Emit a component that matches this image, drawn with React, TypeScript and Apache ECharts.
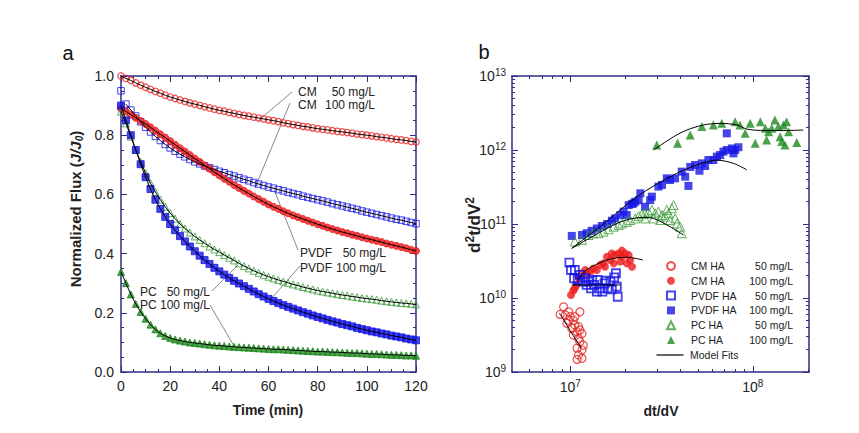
import React, { useEffect, useRef } from 'react';
import * as echarts from 'echarts';

// ---------- Panel a: normalized flux vs time ----------
const TIME = [0, 2, 4, 6, 8, 10, 12, 14, 16, 18, 20, 22, 24, 26, 28, 30, 32, 34, 36, 38, 40, 42, 44, 46, 48, 50, 52, 54, 56, 58, 60, 62, 64, 66, 68, 70, 72, 74, 76, 78, 80, 82, 84, 86, 88, 90, 92, 94, 96, 98, 100, 102, 104, 106, 108, 110, 112, 114, 116, 118, 120];

const CM_50 = [1.000, 0.992, 0.985, 0.977, 0.969, 0.962, 0.955, 0.948, 0.942, 0.935, 0.929, 0.924, 0.919, 0.914, 0.909, 0.905, 0.901, 0.896, 0.892, 0.888, 0.884, 0.881, 0.877, 0.874, 0.870, 0.867, 0.864, 0.861, 0.858, 0.855, 0.852, 0.849, 0.846, 0.842, 0.839, 0.836, 0.833, 0.830, 0.828, 0.825, 0.822, 0.820, 0.818, 0.815, 0.813, 0.811, 0.809, 0.807, 0.804, 0.802, 0.800, 0.798, 0.795, 0.793, 0.791, 0.788, 0.786, 0.784, 0.782, 0.779, 0.777];

const CM_100 = [0.890, 0.880, 0.869, 0.859, 0.848, 0.838, 0.827, 0.815, 0.803, 0.792, 0.780, 0.768, 0.756, 0.745, 0.733, 0.721, 0.710, 0.698, 0.687, 0.675, 0.664, 0.653, 0.643, 0.632, 0.622, 0.612, 0.603, 0.593, 0.584, 0.575, 0.566, 0.558, 0.551, 0.543, 0.536, 0.529, 0.523, 0.517, 0.511, 0.505, 0.499, 0.494, 0.488, 0.483, 0.478, 0.473, 0.469, 0.464, 0.460, 0.455, 0.451, 0.447, 0.443, 0.439, 0.434, 0.430, 0.426, 0.422, 0.418, 0.413, 0.409];

const PVDF_50 = [0.950, 0.905, 0.885, 0.865, 0.845, 0.827, 0.811, 0.796, 0.782, 0.769, 0.757, 0.746, 0.736, 0.727, 0.718, 0.710, 0.703, 0.696, 0.690, 0.684, 0.678, 0.673, 0.667, 0.662, 0.656, 0.651, 0.646, 0.640, 0.635, 0.630, 0.625, 0.621, 0.616, 0.612, 0.607, 0.603, 0.599, 0.594, 0.590, 0.586, 0.582, 0.578, 0.574, 0.569, 0.565, 0.561, 0.557, 0.553, 0.549, 0.544, 0.540, 0.536, 0.532, 0.528, 0.524, 0.520, 0.516, 0.513, 0.509, 0.505, 0.501];

const PVDF_100 = [0.900, 0.850, 0.800, 0.750, 0.702, 0.658, 0.618, 0.582, 0.551, 0.524, 0.500, 0.479, 0.459, 0.441, 0.424, 0.408, 0.393, 0.378, 0.365, 0.352, 0.340, 0.329, 0.318, 0.308, 0.299, 0.290, 0.281, 0.272, 0.263, 0.255, 0.247, 0.240, 0.233, 0.226, 0.220, 0.214, 0.208, 0.202, 0.197, 0.191, 0.186, 0.181, 0.176, 0.171, 0.167, 0.162, 0.158, 0.154, 0.149, 0.145, 0.141, 0.137, 0.134, 0.130, 0.127, 0.123, 0.120, 0.117, 0.113, 0.110, 0.107];

const PC_50 = [0.880, 0.840, 0.795, 0.750, 0.710, 0.672, 0.638, 0.608, 0.582, 0.558, 0.537, 0.518, 0.500, 0.485, 0.471, 0.458, 0.446, 0.435, 0.424, 0.414, 0.405, 0.395, 0.386, 0.377, 0.367, 0.358, 0.350, 0.342, 0.335, 0.328, 0.322, 0.316, 0.311, 0.306, 0.301, 0.296, 0.292, 0.287, 0.283, 0.279, 0.275, 0.272, 0.269, 0.266, 0.263, 0.260, 0.258, 0.255, 0.253, 0.250, 0.248, 0.246, 0.244, 0.241, 0.239, 0.237, 0.235, 0.233, 0.232, 0.230, 0.228];

const PC_100 = [0.338, 0.300, 0.262, 0.230, 0.203, 0.180, 0.160, 0.144, 0.131, 0.122, 0.115, 0.110, 0.106, 0.103, 0.100, 0.098, 0.096, 0.094, 0.092, 0.090, 0.089, 0.088, 0.086, 0.085, 0.084, 0.083, 0.082, 0.081, 0.080, 0.079, 0.078, 0.077, 0.077, 0.076, 0.075, 0.074, 0.073, 0.072, 0.071, 0.070, 0.069, 0.069, 0.068, 0.067, 0.067, 0.066, 0.065, 0.064, 0.064, 0.063, 0.062, 0.061, 0.061, 0.060, 0.059, 0.058, 0.058, 0.057, 0.056, 0.056, 0.055];

// ---------- Panel b: d2t/dV2 vs dt/dV ----------
const CM_HA_50 = [[8.8e6, 6.0e9], [9.2e6, 7.6e9], [9.8e6, 6.5e9], [9.4e6, 5.9e9], [1.0e7, 5.6e9], [1.13e7, 6.5e9], [1.04e7, 5.0e9], [9.6e6, 4.55e9], [1.06e7, 4.3e9], [1.02e7, 3.9e9], [1.11e7, 4.1e9], [1.09e7, 3.5e9], [1.16e7, 3.3e9], [1.04e7, 3.16e9], [1.11e7, 2.85e9], [1.13e7, 2.57e9], [1.18e7, 2.3e9], [1.09e7, 2.1e9], [1.16e7, 1.98e9], [1.11e7, 1.7e9], [1.16e7, 1.53e9], [1.09e7, 1.48e9], [1.06e7, 5.6e9], [9.8e6, 5.0e9], [1.13e7, 3.7e9]];

const CM_HA_100 = [[1.01e7, 1.1e10], [1.04e7, 1.26e10], [1.08e7, 1.5e10], [1.06e7, 1.35e10], [1.11e7, 1.85e10], [1.16e7, 2.16e10], [1.21e7, 2.39e10], [1.29e7, 2.26e10], [1.34e7, 2.5e10], [1.40e7, 2.39e10], [1.46e7, 2.8e10], [1.52e7, 2.94e10], [1.59e7, 3.6e10], [1.66e7, 3.26e10], [1.69e7, 4.0e10], [1.76e7, 3.8e10], [1.84e7, 4.0e10], [1.92e7, 3.6e10], [2.0e7, 4.0e10], [2.09e7, 3.8e10], [2.13e7, 3.26e10], [2.18e7, 2.65e10], [2.04e7, 2.94e10], [1.88e7, 3.1e10], [1.73e7, 2.94e10], [1.92e7, 4.37e10], [1.55e7, 2.65e10], [1.23e7, 2.16e10], [1.13e7, 1.85e10]];

const PVDF_HA_50 = [[9.9e6, 3.0e10], [1.01e7, 2.39e10], [1.06e7, 2.39e10], [1.05e7, 1.85e10], [1.13e7, 2.05e10], [1.21e7, 1.85e10], [1.26e7, 1.66e10], [1.30e7, 1.35e10], [1.35e7, 1.5e10], [1.41e7, 1.75e10], [1.46e7, 1.35e10], [1.50e7, 1.22e10], [1.54e7, 1.58e10], [1.60e7, 1.35e10], [1.66e7, 1.66e10], [1.74e7, 1.9e10], [1.78e7, 2.16e10], [1.80e7, 1.42e10], [1.82e7, 1.04e10], [1.40e7, 1.22e10], [1.23e7, 1.5e10], [1.17e7, 1.66e10], [1.10e7, 1.75e10], [1.69e7, 1.31e10], [1.57e7, 1.71e10], [1.32e7, 1.75e10]];

const PVDF_HA_100 = [[1.02e7, 6.9e10], [1.16e7, 7.1e10], [1.23e7, 7.5e10], [1.31e7, 8.1e10], [1.40e7, 8.7e10], [1.49e7, 9.4e10], [1.59e7, 1.0e11], [1.69e7, 1.11e11], [1.76e7, 1.19e11], [1.88e7, 1.32e11], [1.96e7, 1.47e11], [2.04e7, 1.32e11], [2.18e7, 1.86e11], [2.27e7, 2.0e11], [2.57e7, 1.71e11], [2.42e7, 2.6e11], [2.09e7, 1.8e11], [2.22e7, 1.9e11], [2.37e7, 2.1e11], [2.74e7, 2.1e11], [2.8e7, 2.34e11], [3.04e7, 3.2e11], [3.18e7, 3.37e11], [3.38e7, 4.14e11], [3.52e7, 3.93e11], [3.75e7, 4.14e11], [4.08e7, 5.1e11], [4.26e7, 4.36e11], [4.44e7, 3.27e11], [4.54e7, 5.9e11], [4.83e7, 6.27e11], [5.1e7, 5.25e11], [5.26e7, 6.6e11], [5.48e7, 6.08e11], [5.71e7, 7.33e11], [6.08e7, 7.33e11], [6.35e7, 8.13e11], [6.62e7, 8.55e11], [6.9e7, 9.5e11], [7.2e7, 1.0e12], [7.68e7, 1.05e12], [8.0e7, 1.0e12], [8.34e7, 1.09e12], [7.83e7, 9.0e11], [7.2e7, 1.68e12]];

const PC_HA_50 = [[1.06e7, 5.8e10], [1.16e7, 6.1e10], [1.26e7, 7.1e10], [1.34e7, 7.5e10], [1.43e7, 7.5e10], [1.52e7, 7.9e10], [1.62e7, 8.5e10], [1.73e7, 9.2e10], [1.84e7, 9.7e10], [1.92e7, 1.02e11], [2.04e7, 1.07e11], [2.13e7, 1.13e11], [2.27e7, 1.19e11], [2.37e7, 1.28e11], [2.47e7, 1.36e11], [2.57e7, 1.39e11], [2.68e7, 1.47e11], [2.8e7, 1.55e11], [2.92e7, 1.39e11], [3.04e7, 1.47e11], [3.18e7, 1.32e11], [3.31e7, 1.26e11], [3.45e7, 1.39e11], [3.6e7, 1.63e11], [3.68e7, 1.8e11], [3.76e7, 1.19e11], [3.84e7, 1.02e11], [4.0e7, 9.2e10], [4.08e7, 7.5e10], [3.52e7, 1.13e11], [3.38e7, 1.55e11], [3.11e7, 1.13e11], [2.86e7, 1.19e11], [2.57e7, 1.19e11]];

const PC_HA_100 = [[2.98e7, 1.17e12], [3.87e7, 1.23e12], [4.54e7, 1.6e12], [5.26e7, 2.07e12], [6.08e7, 2.18e12], [6.76e7, 2.29e12], [8.0e7, 2.41e12], [8.5e7, 2.18e12], [9.08e7, 1.68e12], [9.66e7, 2.29e12], [1.03e8, 1.23e12], [1.1e8, 2.41e12], [1.17e8, 1.96e12], [1.19e8, 1.36e12], [1.22e8, 1.77e12], [1.32e8, 2.54e12], [1.38e8, 2.07e12], [1.41e8, 1.51e12], [1.47e8, 2.18e12], [1.50e8, 1.17e12], [1.53e8, 2.41e12], [1.57e8, 1.77e12], [1.74e8, 1.26e12], [1.44e8, 1.3e12], [1.27e8, 1.96e12]];

const FIT_CM_50 = [[8.7e6, 6.3e9], [9.3e6, 4.9e9], [1.0e7, 3.6e9], [1.15e7, 2.1e9]];
const FIT_CM_100 = [[1.10e7, 1.79e10], [1.23e7, 2.39e10], [1.46e7, 3.0e10], [1.73e7, 3.44e10], [2.04e7, 3.55e10], [2.5e7, 3.27e10]];
const FIT_PVDF_50 = [[1.02e7, 1.5e10], [1.88e7, 1.5e10]];
const FIT_PVDF_100 = [[1.02e7, 4.7e10], [1.52e7, 1.0e11], [2.32e7, 2.34e11], [3.52e7, 4.35e11], [4.93e7, 6.27e11], [6.35e7, 7.3e11], [7.83e7, 6.6e11], [9.27e7, 5.4e11]];
const FIT_PC_50 = [[1.02e7, 4.7e10], [1.66e7, 9.2e10], [2.0e7, 1.12e11], [2.5e7, 1.23e11], [2.86e7, 1.19e11], [3.52e7, 9.2e10], [4.17e7, 7.1e10]];
const FIT_PC_100 = [[2.86e7, 1.0e12], [3.68e7, 1.51e12], [4.35e7, 1.86e12], [5.37e7, 2.18e12], [6.62e7, 2.29e12], [8.17e7, 2.18e12], [9.27e7, 1.92e12], [1.1e8, 1.84e12], [1.41e8, 1.83e12], [1.89e8, 1.86e12]];

// tick values
const A_X_TICKS = { min: 0, max: 120, interval: 20 };
const A_Y_TICKS = { min: 0, max: 1, interval: 0.2 };
const B_X_RANGE = [4.8e6, 2.03e8];
const B_Y_RANGE = [1e9, 1e13];
const B_X_MAJOR = [1e7, 1e8];
const B_X_MINOR = [6e6, 7e6, 8e6, 9e6, 2e7, 3e7, 4e7, 5e7, 6e7, 7e7, 8e7, 9e7, 2e8];
const B_Y_MAJOR = [1e9, 1e10, 1e11, 1e12, 1e13];
const B_Y_MINOR = [2e9, 3e9, 4e9, 5e9, 6e9, 7e9, 8e9, 9e9, 2e10, 3e10, 4e10, 5e10, 6e10, 7e10, 8e10, 9e10, 2e11, 3e11, 4e11, 5e11, 6e11, 7e11, 8e11, 9e11, 2e12, 3e12, 4e12, 5e12, 6e12, 7e12, 8e12, 9e12];

const LEGEND_SYMBOLS = ['CM HA|50 mg/L', 'CM HA|100 mg/L', 'PVDF HA|50 mg/L', 'PVDF HA|100 mg/L', 'PC HA|50 mg/L', 'PC HA|100 mg/L'];

const NAVY = '#2d2d84';
const TXT = '#222222';
const FONT = '"Liberation Sans", Arial, Helvetica, sans-serif';
const RED = '#ee1c1c';
const RED_OPEN = '#e62626';
const BLUE = '#1717e6';
const GREEN = '#1f8a1f';
const GREEN_OPEN = '#3a9a3a';

const logLabel = (v: number) => `{b|10}{s|${Math.round(Math.log10(v))}}`;
const logRich = {
  b: { fontSize: 14, fontFamily: FONT, color: TXT, lineHeight: 18 },
  s: { fontSize: 10, fontFamily: FONT, color: TXT, lineHeight: 10, verticalAlign: 'top' },
};

function linAxis(gridIndex: number, position: string, t: any, labels: boolean, fmt?: any) {
  return {
    gridIndex, type: 'value', position, min: t.min, max: t.max, interval: t.interval,
    axisLine: { show: true, onZero: false, lineStyle: { color: NAVY, width: 1.5 } },
    axisTick: { show: true, inside: true, length: 6, lineStyle: { color: NAVY, width: 1 } },
    minorTick: { show: true, splitNumber: 4, length: 3, lineStyle: { color: NAVY, width: 1 } },
    axisLabel: { show: labels, color: TXT, fontSize: 14, fontFamily: FONT, margin: 7, formatter: fmt },
    splitLine: { show: false }, minorSplitLine: { show: false },
  };
}

function logAxis(gridIndex: number, position: string, range: number[], ticks: number[], major: boolean, labels: boolean, margin: number) {
  return {
    gridIndex, type: 'log', logBase: 10, position, min: range[0], max: range[1],
    axisLine: { show: major, onZero: false, lineStyle: { color: NAVY, width: 1.5 } },
    axisTick: { show: true, inside: true, length: major ? 6 : 3, customValues: ticks, lineStyle: { color: NAVY, width: 1 } },
    axisLabel: labels
      ? { show: true, customValues: ticks, formatter: logLabel, rich: logRich, margin }
      : { show: false },
    splitLine: { show: false },
  };
}

const pairs = (xs: number[], ys: number[]) => xs.map((x, i) => [x, ys[i]]);

function scatterA(name: string, ys: number[], symbol: string, fill: string, stroke: string, size: number, bw = 1) {
  return {
    name, type: 'scatter', xAxisIndex: 0, yAxisIndex: 0, data: pairs(TIME, ys), symbol, symbolSize: size,
    itemStyle: { color: fill, borderColor: stroke, borderWidth: bw }, silent: true, z: 2,
  };
}
function fitA(name: string, ys: number[], xs: number[] = TIME) {
  return {
    name, type: 'line', xAxisIndex: 0, yAxisIndex: 0, data: pairs(xs, ys), symbol: 'none', silent: true,
    lineStyle: { color: '#000', width: 1 }, z: 4,
  };
}
function scatterB(name: string, data: number[][], symbol: string, size: number, fill: string, stroke: string, bw: number) {
  return {
    name, type: 'scatter', xAxisIndex: 2, yAxisIndex: 2, data, symbol, symbolSize: size,
    itemStyle: { color: fill, borderColor: stroke, borderWidth: bw }, silent: true, z: 2,
  };
}
function fitB(data: number[][]) {
  return {
    name: 'Model Fits', type: 'line', xAxisIndex: 2, yAxisIndex: 2, data, symbol: 'none', smooth: 0.3, silent: true,
    lineStyle: { color: '#000', width: 1 }, itemStyle: { color: '#000' }, z: 4,
  };
}

const TRANSP = 'rgba(255,255,255,0)';

const txt = (text: string, x: number, y: number, align: string, size = 12) => ({
  type: 'text', x, y, silent: true,
  style: { text, fill: TXT, font: `${size}px ${FONT}`, align, verticalAlign: 'middle' },
});
const leader = (x1: number, y1: number, x2: number, y2: number) => ({
  type: 'line', silent: true, shape: { x1, y1, x2, y2 }, style: { stroke: '#6a6a6a', lineWidth: 0.8 },
});

const legendRich = (padLeft: number) => ({
  a: { width: 58, fontSize: 10.5, fontFamily: FONT, color: TXT, padding: [0, 0, 0, padLeft] },
  b: { width: 44, align: 'right', fontSize: 10.5, fontFamily: FONT, color: TXT },
});
const legendFmt = (name: string) => {
  const p = name.split('|');
  return p.length > 1 ? `{a|${p[0]}}{b|${p[1]}}` : `{a|${name}}`;
};

const option: any = {
  animation: false,
  backgroundColor: '#ffffff',
  textStyle: { fontFamily: FONT },
  grid: [
    { left: 121, top: 76, width: 295, height: 296, outerBoundsMode: 'none' },
    { left: 512, top: 76, width: 297, height: 296, outerBoundsMode: 'none' },
  ],
  xAxis: [
    linAxis(0, 'bottom', A_X_TICKS, true),
    linAxis(0, 'top', A_X_TICKS, false),
    logAxis(1, 'bottom', B_X_RANGE, B_X_MAJOR, true, true, 6),
    logAxis(1, 'bottom', B_X_RANGE, B_X_MINOR, false, false, 6),
    logAxis(1, 'top', B_X_RANGE, B_X_MAJOR, true, false, 6),
    logAxis(1, 'top', B_X_RANGE, B_X_MINOR, false, false, 6),
  ],
  yAxis: [
    linAxis(0, 'left', A_Y_TICKS, true, (v: number) => v.toFixed(1)),
    linAxis(0, 'right', A_Y_TICKS, false),
    logAxis(1, 'left', B_Y_RANGE, B_Y_MAJOR, true, true, 6),
    logAxis(1, 'left', B_Y_RANGE, B_Y_MINOR, false, false, 6),
    logAxis(1, 'right', B_Y_RANGE, B_Y_MAJOR, true, false, 6),
    logAxis(1, 'right', B_Y_RANGE, B_Y_MINOR, false, false, 6),
  ],
  legend: [
    {
      left: 666, top: 260.5, orient: 'vertical', itemWidth: 8, itemHeight: 8, itemGap: 3.8, padding: 0,
      selectedMode: false, data: LEGEND_SYMBOLS, formatter: legendFmt,
      textStyle: { fontFamily: FONT, fontSize: 10.5, color: TXT, rich: legendRich(11) },
    },
    {
      left: 656.5, top: 349.5, orient: 'vertical', itemWidth: 27, itemHeight: 1.2, itemGap: 0, padding: 0,
      selectedMode: false, data: [{ name: 'Model Fits', icon: 'rect' }], formatter: legendFmt,
      textStyle: { fontFamily: FONT, fontSize: 10.5, color: TXT, rich: legendRich(1.5) },
    },
  ],
  series: [
    scatterA('a CM 50', CM_50, 'circle', TRANSP, RED_OPEN, 6.5, 1.2),
    scatterA('a PVDF 50', PVDF_50, 'rect', TRANSP, BLUE, 6.5),
    scatterA('a CM 100', CM_100, 'circle', RED, RED, 7),
    scatterA('a PC 50', PC_50, 'triangle', TRANSP, GREEN_OPEN, 7),
    scatterA('a PVDF 100', PVDF_100, 'rect', BLUE, BLUE, 7),
    scatterA('a PC 100', PC_100, 'triangle', GREEN, GREEN, 7),
    fitA('a fit CM 50', CM_50),
    fitA('a fit PVDF 50', PVDF_50.slice(1), TIME.slice(1)),
    fitA('a fit CM 100', CM_100),
    fitA('a fit PC 50', PC_50),
    fitA('a fit PVDF 100', PVDF_100),
    fitA('a fit PC 100', PC_100),

    scatterB('CM HA|50 mg/L', CM_HA_50, 'circle', 8, TRANSP, RED_OPEN, 1.2),
    scatterB('CM HA|100 mg/L', CM_HA_100, 'circle', 8, RED, RED, 0),
    scatterB('PVDF HA|50 mg/L', PVDF_HA_50, 'rect', 8, TRANSP, BLUE, 1.8),
    scatterB('PVDF HA|100 mg/L', PVDF_HA_100, 'rect', 8, BLUE, BLUE, 0),
    scatterB('PC HA|50 mg/L', PC_HA_50, 'triangle', 9, TRANSP, GREEN_OPEN, 1),
    scatterB('PC HA|100 mg/L', PC_HA_100, 'triangle', 9, GREEN, GREEN, 0),
    fitB(FIT_CM_50),
    fitB(FIT_CM_100),
    fitB(FIT_PVDF_50),
    fitB(FIT_PVDF_100),
    fitB(FIT_PC_50),
    fitB(FIT_PC_100),
  ],
  graphic: [
    { type: 'text', x: 68, y: 53, silent: true, style: { text: 'a', fill: '#111', font: `20px ${FONT}`, align: 'center', verticalAlign: 'middle' } },
    { type: 'text', x: 484, y: 52, silent: true, style: { text: 'b', fill: '#111', font: `20px ${FONT}`, align: 'center', verticalAlign: 'middle' } },
    {
      type: 'text', x: 75, y: 209, rotation: Math.PI / 2, silent: true,
      style: {
        text: '{n|Normalized Flux (}{i|J/J}{s|0}{n|)}', align: 'center', verticalAlign: 'middle',
        rich: {
          n: { fontSize: 15, fontWeight: 'bold', fontFamily: FONT, fill: TXT, lineHeight: 18 },
          i: { fontSize: 15, fontWeight: 'bold', fontStyle: 'italic', fontFamily: FONT, fill: TXT, lineHeight: 18 },
          s: { fontSize: 10, fontWeight: 'bold', fontStyle: 'italic', fontFamily: FONT, fill: TXT, lineHeight: 12, verticalAlign: 'bottom' },
        },
      },
    },
    { type: 'text', x: 268, y: 410, silent: true, style: { text: 'Time (min)', fill: TXT, font: `bold 14px ${FONT}`, align: 'center', verticalAlign: 'middle' } },
    {
      type: 'text', x: 474, y: 225, rotation: Math.PI / 2, silent: true,
      style: {
        text: '{n|d}{s|2}{n|t/dV}{s|2}', align: 'center', verticalAlign: 'middle',
        rich: {
          n: { fontSize: 17, fontWeight: 'bold', fontFamily: FONT, fill: TXT, lineHeight: 20 },
          s: { fontSize: 12, fontWeight: 'bold', fontFamily: FONT, fill: TXT, lineHeight: 12, verticalAlign: 'top' },
        },
      },
    },
    { type: 'text', x: 661, y: 411, silent: true, style: { text: 'dt/dV', fill: TXT, font: `bold 14px ${FONT}`, align: 'center', verticalAlign: 'middle' } },

    txt('CM', 298, 92, 'left'), txt('50 mg/L', 375, 92, 'right'),
    txt('CM', 298, 104.5, 'left'), txt('100 mg/L', 375, 104.5, 'right'),
    txt('PVDF', 300, 253, 'left'), txt('50 mg/L', 386, 253, 'right'),
    txt('PVDF', 300, 267.5, 'left'), txt('100 mg/L', 386, 267.5, 'right'),
    txt('PC', 140, 291.5, 'left'), txt('50 mg/L', 210, 291.5, 'right'),
    txt('PC', 140, 305, 'left'), txt('100 mg/L', 210, 305, 'right'),
    leader(292, 92, 258, 121),
    leader(290, 103, 255, 188),
    leader(298, 250, 275, 192),
    leader(300, 266, 271, 299),
    leader(212, 291, 238, 265),
    leader(210, 305, 234, 346),
  ],
};

export default function App() {
  const ref = useRef<HTMLDivElement>(null);
  useEffect(() => {
    if (!ref.current) return;
    const chart = echarts.init(ref.current, null, { renderer: 'svg' });
    chart.setOption(option);
    return () => chart.dispose();
  }, []);
  return (
    <div
      ref={ref}
      style={{ position: 'fixed', left: 0, top: 0, width: 859, height: 433, background: '#ffffff' }}
    />
  );
}
